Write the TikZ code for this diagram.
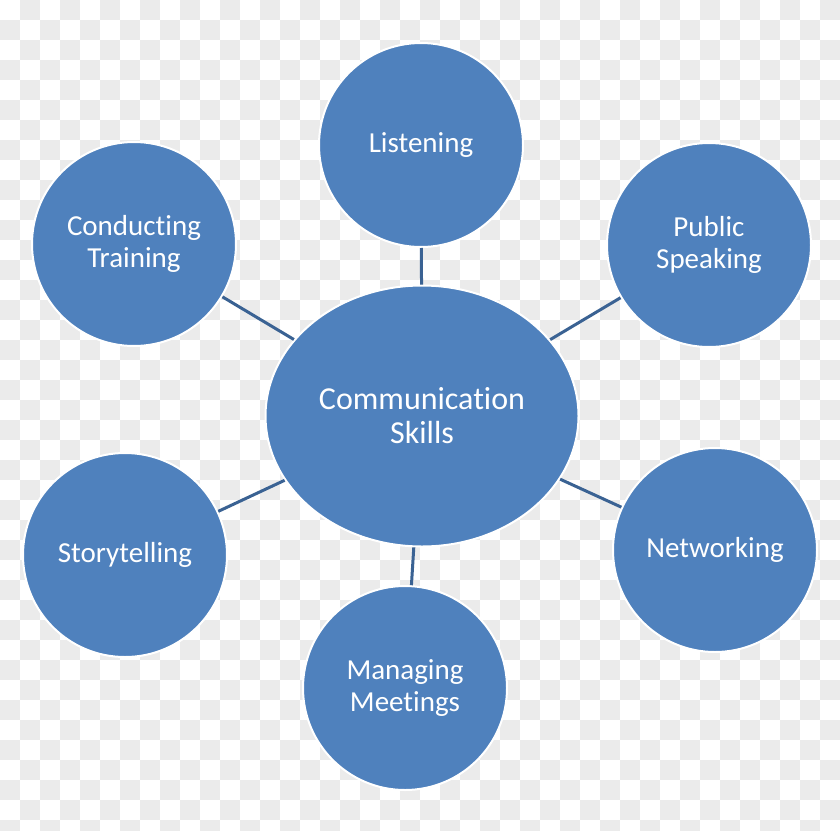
\documentclass[tikz,border=0pt]{standalone}
\usepackage{fontspec}
\setmainfont{Carlito}[Ligatures={NoCommon,NoRare,NoDiscretionary}]
\usetikzlibrary{shapes.geometric}
\definecolor{bub}{HTML}{4F81BD}
\definecolor{lnk}{HTML}{3A6293}
\definecolor{chk}{HTML}{EBEBEB}
\tikzset{
  bubble/.style={circle, fill=bub, draw=white, line width=2pt, minimum size=204pt, inner sep=0pt, text=white, align=center, font=\fontsize{29}{32}\selectfont},
  hub/.style={ellipse, fill=bub, draw=white, line width=2pt, minimum width=313pt, minimum height=261pt, inner sep=0pt, text=white, align=center, font=\fontsize{32}{34}\selectfont},
  link/.style={draw=lnk, line width=3pt}
}
\begin{document}
\begin{tikzpicture}[x=1pt,y=-1pt]
\useasboundingbox (0,0) rectangle (840,830);
\fill[white] (0,0) rectangle (840,830);
\foreach \i in {0,...,41}{
  \foreach \j in {0,...,41}{
    \ifodd\numexpr\i+\j\relax
      \fill[chk] (\i*20,\j*20) rectangle ++(20,20);
    \fi
  }
}
\node[hub] (hub) at (422,416) {Communication\\Skills};
\node[bubble] (listen) at (421,145) {Listening};
\node[bubble] (public) at (709,245) {Public\\Speaking};
\node[bubble] (train) at (134,244) {Conducting\\Training};
\node[bubble] (story) at (125,555) {Storytelling};
\node[bubble] (net) at (715,550) {Networking};
\node[bubble] (meet) at (405,688) {Managing\\Meetings};
\draw[link] (hub) -- (listen);
\draw[link] (hub) -- (public);
\draw[link] (hub) -- (train);
\draw[link] (hub) -- (story);
\draw[link] (hub) -- (net);
\draw[link] (hub) -- (meet);
\end{tikzpicture}
\end{document}
